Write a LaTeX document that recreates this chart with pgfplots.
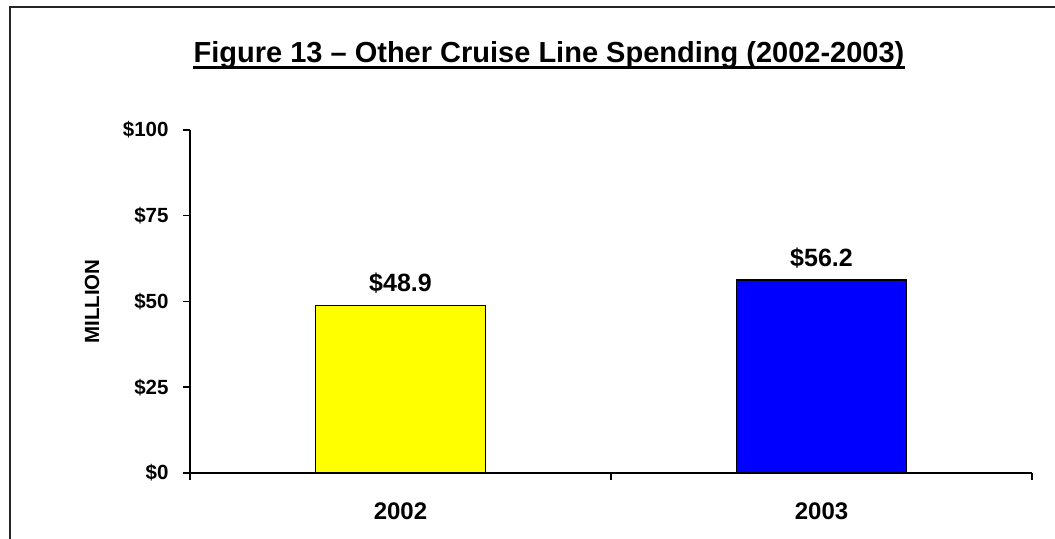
\documentclass[border=0pt]{standalone}
\usepackage{pgfplots}
\pgfplotsset{compat=1.18}
\usepackage{fontspec}
\setmainfont{Liberation Sans}
\definecolor{yel}{RGB}{255,255,0}
\definecolor{blu}{RGB}{0,0,255}
\begin{document}
\begin{tikzpicture}
\useasboundingbox (0,0) rectangle (1055bp,539bp);
\fill[white] (0,0) rectangle (1055bp,539bp);
\draw[line width=2bp, black!85] (10bp,-2bp) -- (10bp,532bp) -- (1057bp,532bp);
\node[anchor=base, inner sep=0pt, font=\fontsize{29bp}{34bp}\selectfont\bfseries] (t) at (549bp,476bp) {Figure 13 – Other Cruise Line Spending (2002-2003)};
\draw[line width=3bp] ([yshift=-5bp]t.base west) -- ([yshift=-5bp]t.base east);
\begin{axis}[
  at={(190bp,66bp)}, anchor=south west,
  scale only axis, width=842bp, height=343bp,
  xmin=-0.5, xmax=1.5, ymin=0, ymax=100,
  axis lines*=left,
  axis line style={line width=1.5bp, black},
  ybar, bar shift=0pt, bar width=170bp,
  ytick={0,25,50,75,100},
  yticklabels={\$0,\$25,\$50,\$75,\$100},
  tick align=outside,
  major tick length=7bp,
  tick style={line width=1.5bp, black},
  xtick={-0.5,0.5,1.5}, xticklabels={,,},
  extra x ticks={0,1}, extra x tick labels={2002,2003},
  extra x tick style={tick style={draw=none}},
  xticklabel style={font=\fontsize{24bp}{28bp}\selectfont\bfseries, yshift=-19bp},
  yticklabel style={font=\fontsize{20.5bp}{24bp}\selectfont\bfseries, xshift=-11bp},
  ylabel={MILLION},
  ylabel style={at={(axis description cs:-0.1164,0.5)}, anchor=center, font=\fontsize{20.5bp}{24bp}\selectfont\bfseries},
  nodes near coords={\$\pgfmathprintnumber[fixed,precision=1,fixed zerofill]{\pgfplotspointmeta}},
  every node near coord/.append style={font=\fontsize{25bp}{30bp}\selectfont\bfseries, yshift=8bp},
  /pgf/number format/assume math mode=true,
]
\addplot[fill=yel, draw=black, line width=1.5bp] coordinates {(0,48.9)};
\addplot[fill=blu, draw=black, line width=1.5bp] coordinates {(1,56.2)};
\end{axis}
\end{tikzpicture}
\end{document}
